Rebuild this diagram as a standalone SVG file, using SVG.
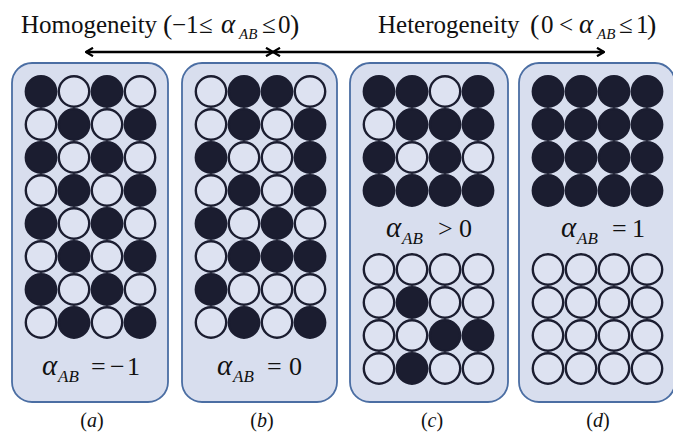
<svg xmlns="http://www.w3.org/2000/svg" width="673" height="433" viewBox="0 0 673 433">
<defs>
<style>
.panel{fill:#d8deee;stroke:#4b6ea3;stroke-width:1.8}
.b{fill:#1b1d30;stroke:#1b1d30;stroke-width:2.4}
.w{fill:#dde2f1;stroke:#1b1d30;stroke-width:2.4}
text{font-family:"Liberation Serif","Times New Roman",serif;fill:#111}
.t{font-size:25px}
.par{font-size:28px}
.eq{font-size:26px}
.al{font-style:italic;font-size:29px}
.sub{font-style:italic;font-size:17px}
.tal{font-style:italic;font-size:27px}
.tsub{font-style:italic;font-size:15px}
.lab{font-size:20px}
.it{font-style:italic}
.arr{stroke:#000;stroke-width:2.4;fill:none}
</style>
<marker id="ah" viewBox="0 0 10 10" refX="9" refY="5" markerWidth="10" markerHeight="10" markerUnits="userSpaceOnUse" orient="auto-start-reverse">
<path d="M2,0.8 L9,5 L2,9.2" fill="none" stroke="#000" stroke-width="2.2"/>
</marker>
</defs>
<rect width="673" height="433" fill="#ffffff"/>

<g id="title-homogeneity">
<text class="t" y="33"><tspan x="21">Homogeneity</tspan><tspan class="par" x="163" y="34">(</tspan><tspan x="172" y="33">−1</tspan><tspan x="199">≤</tspan><tspan class="tal" x="221">α</tspan><tspan class="tsub" x="239" y="39">AB</tspan><tspan x="262" y="33">≤</tspan><tspan x="278">0</tspan><tspan class="par" x="290" y="34">)</tspan></text>
</g>
<g id="title-heterogeneity">
<text class="t" y="33"><tspan x="378">Heterogeneity</tspan><tspan class="par" x="530" y="34">(</tspan><tspan x="541" y="33">0</tspan><tspan x="559">&lt;</tspan><tspan class="tal" x="579">α</tspan><tspan class="tsub" x="597" y="39">AB</tspan><tspan x="619" y="33">≤</tspan><tspan x="636">1</tspan><tspan class="par" x="647" y="34">)</tspan></text>
</g>

<g id="connectors">
<line class="arr" x1="86" y1="52" x2="273" y2="52" marker-start="url(#ah)" marker-end="url(#ah)"/>
<line class="arr" x1="273" y1="52" x2="604" y2="52" marker-start="url(#ah)" marker-end="url(#ah)"/>
</g>

<g id="panel-a">
<rect class="panel" x="12" y="63" width="156" height="339" rx="20"/>
<circle class="b" cx="41" cy="91.5" r="15.2"/><circle class="w" cx="74" cy="91.5" r="15.2"/><circle class="b" cx="107" cy="91.5" r="15.2"/><circle class="w" cx="140" cy="91.5" r="15.2"/>
<circle class="w" cx="41" cy="124.5" r="15.2"/><circle class="b" cx="74" cy="124.5" r="15.2"/><circle class="w" cx="107" cy="124.5" r="15.2"/><circle class="b" cx="140" cy="124.5" r="15.2"/>
<circle class="b" cx="41" cy="157.5" r="15.2"/><circle class="w" cx="74" cy="157.5" r="15.2"/><circle class="b" cx="107" cy="157.5" r="15.2"/><circle class="w" cx="140" cy="157.5" r="15.2"/>
<circle class="w" cx="41" cy="190.5" r="15.2"/><circle class="b" cx="74" cy="190.5" r="15.2"/><circle class="w" cx="107" cy="190.5" r="15.2"/><circle class="b" cx="140" cy="190.5" r="15.2"/>
<circle class="b" cx="41" cy="223.5" r="15.2"/><circle class="w" cx="74" cy="223.5" r="15.2"/><circle class="b" cx="107" cy="223.5" r="15.2"/><circle class="w" cx="140" cy="223.5" r="15.2"/>
<circle class="w" cx="41" cy="256.5" r="15.2"/><circle class="b" cx="74" cy="256.5" r="15.2"/><circle class="w" cx="107" cy="256.5" r="15.2"/><circle class="b" cx="140" cy="256.5" r="15.2"/>
<circle class="b" cx="41" cy="289.5" r="15.2"/><circle class="w" cx="74" cy="289.5" r="15.2"/><circle class="b" cx="107" cy="289.5" r="15.2"/><circle class="w" cx="140" cy="289.5" r="15.2"/>
<circle class="w" cx="41" cy="322.5" r="15.2"/><circle class="b" cx="74" cy="322.5" r="15.2"/><circle class="w" cx="107" cy="322.5" r="15.2"/><circle class="b" cx="140" cy="322.5" r="15.2"/>
<text class="eq" y="375"><tspan class="al" x="42">α</tspan><tspan class="sub" x="58" y="382">AB</tspan><tspan x="91" y="375">=</tspan><tspan x="110">−</tspan><tspan x="127">1</tspan></text>
</g>

<g id="panel-b">
<rect class="panel" x="182" y="63" width="155" height="339" rx="20"/>
<circle class="w" cx="211" cy="91.5" r="15.2"/><circle class="b" cx="244" cy="91.5" r="15.2"/><circle class="b" cx="277" cy="91.5" r="15.2"/><circle class="w" cx="310" cy="91.5" r="15.2"/>
<circle class="w" cx="211" cy="124.5" r="15.2"/><circle class="b" cx="244" cy="124.5" r="15.2"/><circle class="w" cx="277" cy="124.5" r="15.2"/><circle class="b" cx="310" cy="124.5" r="15.2"/>
<circle class="b" cx="211" cy="157.5" r="15.2"/><circle class="w" cx="244" cy="157.5" r="15.2"/><circle class="w" cx="277" cy="157.5" r="15.2"/><circle class="b" cx="310" cy="157.5" r="15.2"/>
<circle class="w" cx="211" cy="190.5" r="15.2"/><circle class="b" cx="244" cy="190.5" r="15.2"/><circle class="w" cx="277" cy="190.5" r="15.2"/><circle class="b" cx="310" cy="190.5" r="15.2"/>
<circle class="b" cx="211" cy="223.5" r="15.2"/><circle class="w" cx="244" cy="223.5" r="15.2"/><circle class="b" cx="277" cy="223.5" r="15.2"/><circle class="w" cx="310" cy="223.5" r="15.2"/>
<circle class="w" cx="211" cy="256.5" r="15.2"/><circle class="b" cx="244" cy="256.5" r="15.2"/><circle class="b" cx="277" cy="256.5" r="15.2"/><circle class="b" cx="310" cy="256.5" r="15.2"/>
<circle class="b" cx="211" cy="289.5" r="15.2"/><circle class="w" cx="244" cy="289.5" r="15.2"/><circle class="w" cx="277" cy="289.5" r="15.2"/><circle class="w" cx="310" cy="289.5" r="15.2"/>
<circle class="w" cx="211" cy="322.5" r="15.2"/><circle class="b" cx="244" cy="322.5" r="15.2"/><circle class="w" cx="277" cy="322.5" r="15.2"/><circle class="b" cx="310" cy="322.5" r="15.2"/>
<text class="eq" y="375"><tspan class="al" x="217">α</tspan><tspan class="sub" x="233" y="382">AB</tspan><tspan x="267" y="375">=</tspan><tspan x="289">0</tspan></text>
</g>

<g id="panel-c">
<rect class="panel" x="350" y="63" width="158" height="339" rx="20"/>
<circle class="b" cx="379" cy="91.5" r="15.2"/><circle class="b" cx="412" cy="91.5" r="15.2"/><circle class="w" cx="445" cy="91.5" r="15.2"/><circle class="b" cx="478" cy="91.5" r="15.2"/>
<circle class="w" cx="379" cy="124.5" r="15.2"/><circle class="b" cx="412" cy="124.5" r="15.2"/><circle class="b" cx="445" cy="124.5" r="15.2"/><circle class="b" cx="478" cy="124.5" r="15.2"/>
<circle class="b" cx="379" cy="157.5" r="15.2"/><circle class="w" cx="412" cy="157.5" r="15.2"/><circle class="b" cx="445" cy="157.5" r="15.2"/><circle class="w" cx="478" cy="157.5" r="15.2"/>
<circle class="b" cx="379" cy="190.5" r="15.2"/><circle class="b" cx="412" cy="190.5" r="15.2"/><circle class="b" cx="445" cy="190.5" r="15.2"/><circle class="b" cx="478" cy="190.5" r="15.2"/>
<text class="eq" y="237"><tspan class="al" x="386">α</tspan><tspan class="sub" x="402" y="244">AB</tspan><tspan x="438" y="237">&gt;</tspan><tspan x="459">0</tspan></text>
<circle class="w" cx="379" cy="269.5" r="15.2"/><circle class="w" cx="412" cy="269.5" r="15.2"/><circle class="w" cx="445" cy="269.5" r="15.2"/><circle class="w" cx="478" cy="269.5" r="15.2"/>
<circle class="w" cx="379" cy="302.5" r="15.2"/><circle class="b" cx="412" cy="302.5" r="15.2"/><circle class="w" cx="445" cy="302.5" r="15.2"/><circle class="w" cx="478" cy="302.5" r="15.2"/>
<circle class="w" cx="379" cy="335.5" r="15.2"/><circle class="w" cx="412" cy="335.5" r="15.2"/><circle class="b" cx="445" cy="335.5" r="15.2"/><circle class="b" cx="478" cy="335.5" r="15.2"/>
<circle class="w" cx="379" cy="368.5" r="15.2"/><circle class="b" cx="412" cy="368.5" r="15.2"/><circle class="w" cx="445" cy="368.5" r="15.2"/><circle class="w" cx="478" cy="368.5" r="15.2"/>
</g>

<g id="panel-d">
<rect class="panel" x="519" y="63" width="156" height="339" rx="20"/>
<circle class="b" cx="548" cy="91.5" r="15.2"/><circle class="b" cx="581" cy="91.5" r="15.2"/><circle class="b" cx="614" cy="91.5" r="15.2"/><circle class="b" cx="647" cy="91.5" r="15.2"/>
<circle class="b" cx="548" cy="124.5" r="15.2"/><circle class="b" cx="581" cy="124.5" r="15.2"/><circle class="b" cx="614" cy="124.5" r="15.2"/><circle class="b" cx="647" cy="124.5" r="15.2"/>
<circle class="b" cx="548" cy="157.5" r="15.2"/><circle class="b" cx="581" cy="157.5" r="15.2"/><circle class="b" cx="614" cy="157.5" r="15.2"/><circle class="b" cx="647" cy="157.5" r="15.2"/>
<circle class="b" cx="548" cy="190.5" r="15.2"/><circle class="b" cx="581" cy="190.5" r="15.2"/><circle class="b" cx="614" cy="190.5" r="15.2"/><circle class="b" cx="647" cy="190.5" r="15.2"/>
<text class="eq" y="237"><tspan class="al" x="561">α</tspan><tspan class="sub" x="577" y="244">AB</tspan><tspan x="612" y="237">=</tspan><tspan x="632">1</tspan></text>
<circle class="w" cx="548" cy="269.5" r="15.2"/><circle class="w" cx="581" cy="269.5" r="15.2"/><circle class="w" cx="614" cy="269.5" r="15.2"/><circle class="w" cx="647" cy="269.5" r="15.2"/>
<circle class="w" cx="548" cy="302.5" r="15.2"/><circle class="w" cx="581" cy="302.5" r="15.2"/><circle class="w" cx="614" cy="302.5" r="15.2"/><circle class="w" cx="647" cy="302.5" r="15.2"/>
<circle class="w" cx="548" cy="335.5" r="15.2"/><circle class="w" cx="581" cy="335.5" r="15.2"/><circle class="w" cx="614" cy="335.5" r="15.2"/><circle class="w" cx="647" cy="335.5" r="15.2"/>
<circle class="w" cx="548" cy="368.5" r="15.2"/><circle class="w" cx="581" cy="368.5" r="15.2"/><circle class="w" cx="614" cy="368.5" r="15.2"/><circle class="w" cx="647" cy="368.5" r="15.2"/>
</g>

<g id="labels">
<text class="lab" x="92" y="427" text-anchor="middle">(<tspan class="it">a</tspan>)</text>
<text class="lab" x="262" y="427" text-anchor="middle">(<tspan class="it">b</tspan>)</text>
<text class="lab" x="432" y="427" text-anchor="middle">(<tspan class="it">c</tspan>)</text>
<text class="lab" x="598" y="427" text-anchor="middle">(<tspan class="it">d</tspan>)</text>
</g>
</svg>
